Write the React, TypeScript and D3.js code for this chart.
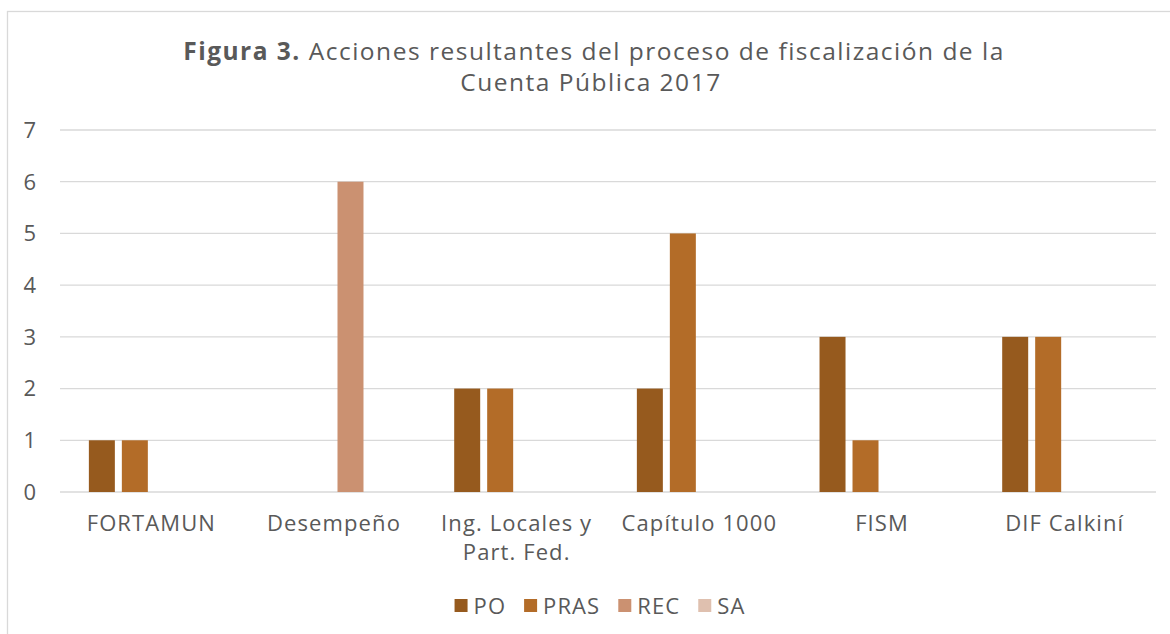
import React, { useEffect, useRef } from "react";
import * as d3 from "d3";

const categories = ["FORTAMUN", "Desempeño", "Ing. Locales y\nPart. Fed.", "Capítulo 1000", "FISM", "DIF Calkiní"];
const seriesNames = ["PO", "PRAS", "REC", "SA"];
const poValues = [1, 0, 2, 2, 3, 3];
const prasValues = [1, 0, 2, 5, 1, 3];
const recValues = [0, 6, 0, 0, 0, 0];
const saValues = [0, 0, 0, 0, 0, 0];
const seriesColors = ["#965a1e", "#b36c28", "#cb9171", "#dfc0af"];
const yTicks = [0, 1, 2, 3, 4, 5, 6, 7];
const titleBold = "Figura 3.";
const titleRest = " Acciones resultantes del proceso de fiscalización de la";
const titleLine2 = "Cuenta Pública 2017";

const W = 1170;
const H = 634;
const FONT = "'Open Sans', 'DejaVu Sans', sans-serif";
const TEXT = "#595959";
const GRID = "#d9d9d9";

export default function App() {
  const ref = useRef<SVGSVGElement | null>(null);

  useEffect(() => {
    const svg = d3.select(ref.current);
    svg.selectAll("*").remove();

    const plot = { left: 60, right: 1156, top: 130, bottom: 492 };
    const allSeries = [poValues, prasValues, recValues, saValues];

    // chart border
    svg.append("rect")
      .attr("x", 7.5).attr("y", 11.5)
      .attr("width", W + 20).attr("height", H + 20)
      .attr("fill", "#fff").attr("stroke", GRID).attr("stroke-width", 1.3);

    // title
    const title = svg.append("text")
      .attr("x", 594).attr("y", 60)
      .attr("text-anchor", "middle")
      .attr("font-family", FONT).attr("font-size", 24.5).attr("fill", TEXT)
      .attr("letter-spacing", 1.5);
    title.append("tspan").attr("font-weight", 700).text(titleBold);
    title.append("tspan").attr("font-weight", 400).text(titleRest);
    svg.append("text")
      .attr("x", 591).attr("y", 91)
      .attr("text-anchor", "middle")
      .attr("font-family", FONT).attr("font-size", 24.5).attr("fill", TEXT)
      .attr("letter-spacing", 1.5)
      .text(titleLine2);

    const y = d3.scaleLinear().domain([0, 7]).range([plot.bottom, plot.top]);
    const x0 = d3.scaleBand<number>()
      .domain(d3.range(categories.length))
      .range([plot.left, plot.right])
      .paddingInner(0.316).paddingOuter(0.158);
    const x1 = d3.scaleBand<number>()
      .domain(d3.range(seriesNames.length))
      .range([0, x0.bandwidth()])
      .paddingInner(0.212).paddingOuter(0);

    // gridlines
    svg.append("g").selectAll("line").data(yTicks).join("line")
      .attr("x1", plot.left).attr("x2", plot.right)
      .attr("y1", (d) => y(d)).attr("y2", (d) => y(d))
      .attr("stroke", GRID).attr("stroke-width", 1.3);

    // y tick labels
    svg.append("g").selectAll("text").data(yTicks).join("text")
      .attr("x", 36).attr("y", (d) => y(d))
      .attr("dy", "0.36em")
      .attr("text-anchor", "end")
      .attr("font-family", FONT).attr("font-size", 22).attr("fill", TEXT)
      .text((d) => String(d));

    // bars
    const groups = svg.append("g").selectAll("g").data(categories.map((_, i) => i)).join("g")
      .attr("transform", (i) => `translate(${x0(i)},0)`);
    groups.selectAll("rect")
      .data((i) => allSeries.map((s, k) => ({ k, v: s[i] })).filter((d) => d.v > 0))
      .join("rect")
      .attr("x", (d) => x1(d.k)!)
      .attr("width", x1.bandwidth())
      .attr("y", (d) => y(d.v))
      .attr("height", (d) => y(0) - y(d.v))
      .attr("fill", (d) => seriesColors[d.k]);

    // x labels
    const xl = svg.append("g").selectAll("text").data(categories.map((c, i) => ({ c, i }))).join("text")
      .attr("x", (d) => x0(d.i)! + x0.bandwidth() / 2)
      .attr("y", 531)
      .attr("text-anchor", "middle")
      .attr("font-family", FONT).attr("font-size", 22).attr("fill", TEXT)
      .attr("letter-spacing", 1.1);
    xl.each(function (d) {
      const lines = d.c.split("\n");
      d3.select(this).selectAll("tspan").data(lines).join("tspan")
        .attr("x", x0(d.i)! + x0.bandwidth() / 2)
        .attr("dy", (_, j) => (j === 0 ? 0 : 29))
        .text((t) => t);
    });

    // legend
    const legend = svg.append("g");
    const items = legend.selectAll("g").data(seriesNames.map((n, k) => ({ n, k }))).join("g");
    items.append("rect").attr("width", 13).attr("height", 13).attr("y", 599)
      .attr("fill", (d) => seriesColors[d.k]);
    const texts = items.append("text").attr("y", 614)
      .attr("font-family", FONT).attr("font-size", 22).attr("fill", TEXT)
      .attr("letter-spacing", 1.1)
      .text((d) => d.n);
    const widths: number[] = [];
    texts.each(function () { widths.push((this as SVGTextElement).getComputedTextLength()); });
    const sq = 13, gapT = 6, gapI = 18;
    const total = d3.sum(widths) + seriesNames.length * (sq + gapT) + (seriesNames.length - 1) * gapI;
    let cx = 600 - total / 2;
    items.each(function (d) {
      const g = d3.select(this);
      g.select("rect").attr("x", cx);
      g.select("text").attr("x", cx + sq + gapT);
      cx += sq + gapT + widths[d.k] + gapI;
    });
  }, []);

  return (
    <svg ref={ref} width={W} height={H}
      style={{ position: "absolute", left: 0, top: 0, display: "block", background: "#fff" }} />
  );
}
